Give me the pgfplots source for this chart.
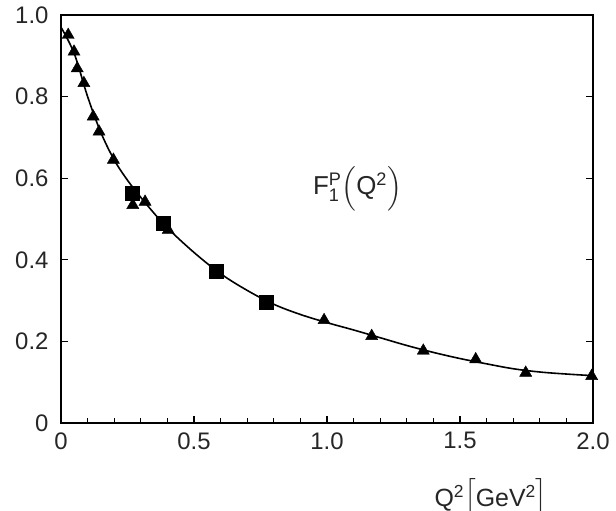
\documentclass[border=0pt]{standalone}
\usepackage{fontspec}
\setmainfont{Liberation Sans}
\usepackage{amsmath}
\usepackage{pgfplots}
\pgfplotsset{compat=1.18}
\begin{document}
\begin{tikzpicture}
\begin{axis}[
  scale only axis,
  width=532bp, height=408bp,
  xmin=0, xmax=2, ymin=0, ymax=1,
  axis line style={line width=1.6bp},
  tick style={line width=1.2bp, black},
  tick align=inside,
  xtick pos=bottom,
  ytick pos=both,
  xtick={0,0.5,1,1.5,2},
  xticklabels={0,0.5,1.0,1.5,2.0},
  minor x tick num=4,
  ytick={0,0.2,0.4,0.6,0.8,1},
  yticklabels={0,0.2,0.4,0.6,0.8,1.0},
  major tick length=7bp,
  minor tick length=5bp,
  tick label style={font=\fontsize{24}{28}\selectfont, text=black!85},
  xticklabel style={yshift=-6bp},
  yticklabel style={xshift=-9bp},
  clip=false,
]
\addplot[black, line width=1.6bp, smooth, tension=0.6] coordinates {
(0,0.970) (0.05,0.905) (0.1,0.800) (0.15,0.712) (0.2,0.645) (0.25,0.595)
(0.3,0.553) (0.35,0.514) (0.4,0.478) (0.5,0.418) (0.6,0.366) (0.7,0.325)
(0.8,0.291) (0.9,0.266) (1.0,0.246) (1.1,0.228) (1.2,0.209) (1.3,0.190)
(1.4,0.173) (1.5,0.158) (1.6,0.145) (1.7,0.133) (1.8,0.125) (1.9,0.120) (2.0,0.116)
};
\addplot[only marks, mark=triangle*, mark size=7bp, black] coordinates {
(0.027,0.951) (0.049,0.910) (0.061,0.869) (0.086,0.833) (0.121,0.751)
(0.143,0.714) (0.197,0.645) (0.270,0.534) (0.316,0.542) (0.403,0.473)
(0.989,0.252) (1.168,0.213) (1.362,0.177) (1.559,0.156) (1.747,0.123) (1.995,0.115)
};
\addplot[only marks, mark=square*, mark size=7bp, black] coordinates {
(0.268,0.564) (0.385,0.489) (0.585,0.373) (0.773,0.297)
};
\node[anchor=base west, inner sep=0pt, font=\fontsize{26}{30}\selectfont, text=black!85]
  at (axis cs:0.947,0.560) {F$^{\text{P}}_{\text{1}}\Bigl($Q$^{\text{2}}\Bigr)$};
\node[anchor=base east, inner sep=0pt, font=\fontsize{25}{29}\selectfont, text=black!85]
  at (axis cs:1.83,-0.205) {Q$^{\text{2}}\Bigl[$GeV$^{\text{2}}\Bigr]$};
\end{axis}
\pgfresetboundingbox
\path (-61bp,-88bp) rectangle (555bp,423bp);
\end{tikzpicture}
\end{document}
